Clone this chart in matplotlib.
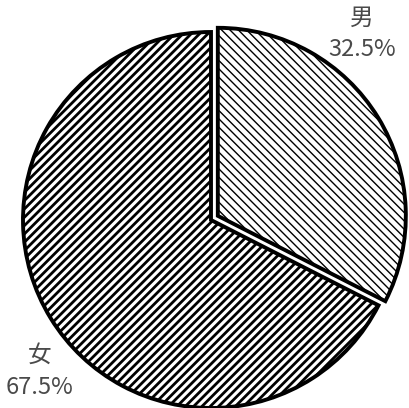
import matplotlib
matplotlib.use('Agg')
import matplotlib.pyplot as plt

# --- DATA ---
labels = ['男', '女']
values = [32.5, 67.5]
pct_labels = ['32.5%', '67.5%']

# --- STYLE ---
hatches = ['\\\\\\\\', '////']
hatch_widths = [1.0, 2.0]
explode = [8, 0]  # data units (pixels here)

plt.rcParams['font.family'] = ['Noto Sans CJK JP', 'DejaVu Sans']
plt.rcParams['hatch.linewidth'] = 2.0

fig = plt.figure(figsize=(4.10, 4.08), dpi=100)
ax = fig.add_axes([0, 0, 1, 1])

wedges, _ = ax.pie(values, startangle=90, counterclock=False,
                   explode=explode, center=(211, 188), radius=188,
                   colors=['white', 'white'], frame=True,
                   wedgeprops=dict(edgecolor='black', linewidth=2.8))
ax.set_xlim(0, 410)
ax.set_ylim(0, 408)
ax.set_aspect('equal')
ax.axis('off')

for w, h, hw in zip(wedges, hatches, hatch_widths):
    w.set_hatch(h)
    if hasattr(w, 'set_hatch_linewidth'):
        w.set_hatch_linewidth(hw)

# labels
label_pos = [(362, 390, 358), (40, 53, 20)]
for lab, pct, (x, y1, y2) in zip(labels, pct_labels, label_pos):
    ax.text(x, y1, lab, ha='center', va='center', fontsize=17, color='#4a4a4a')
    ax.text(x, y2, pct, ha='center', va='center', fontsize=17, color='#4a4a4a')

fig.savefig('out.png', dpi=100)
